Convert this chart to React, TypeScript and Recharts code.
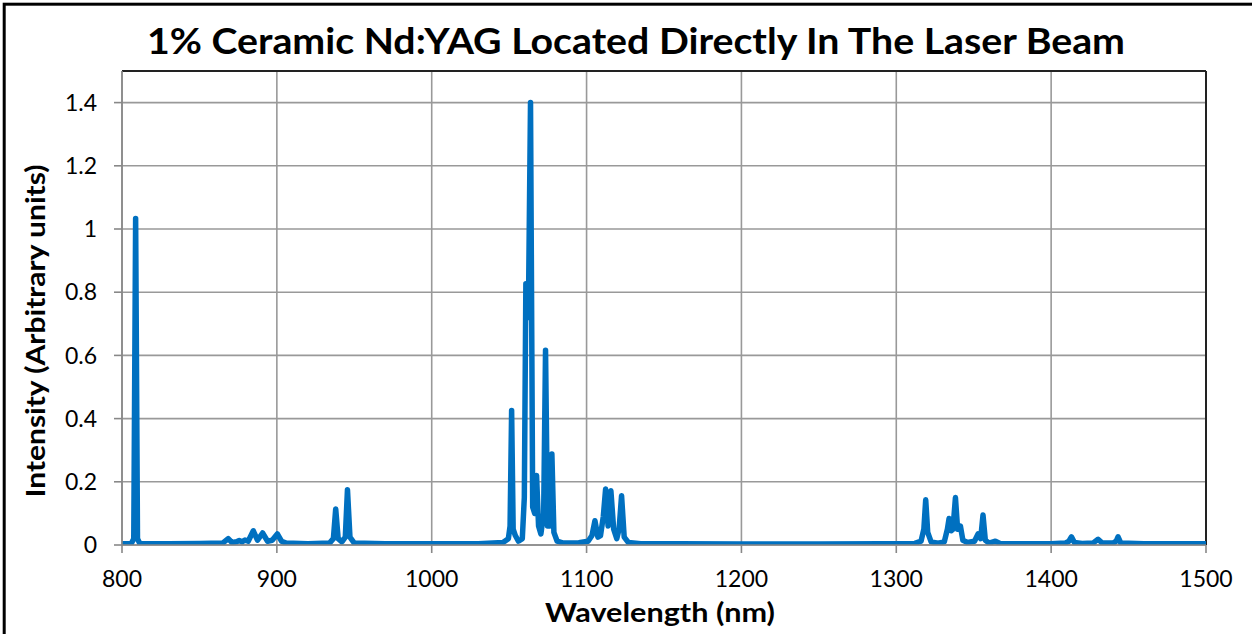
import React from "react";
import { LineChart, Line, XAxis, YAxis, CartesianGrid, ReferenceLine } from "recharts";

const titleText = "1% Ceramic Nd:YAG Located Directly In The Laser Beam";
const xAxisTitle = "Wavelength (nm)";
const yAxisTitle = "Intensity (Arbitrary units)";

const xTicks = [800, 900, 1000, 1100, 1200, 1300, 1400, 1500];
const yTicks = [0, 0.2, 0.4, 0.6, 0.8, 1, 1.2, 1.4];
const yTickLabels = ["0", "0.2", "0.4", "0.6", "0.8", "1", "1.2", "1.4"];

// Spectrum: wavelength (nm) and intensity (arb. units)
const wavelengthNm = [
  800, 806, 807.6, 808.8, 810.0, 811.5, 830, 850, 865, 868.6, 871, 874, 875.7, 877.5, 879.4,
  881.5, 884.8, 887.5, 890.8, 894, 897, 900.3, 903, 906, 920, 934, 936.5, 938.0, 939.6, 942,
  944.2, 945.6, 947.2, 950, 970, 1000, 1030, 1046, 1049.5, 1050.6, 1051.6, 1052.6, 1054, 1056,
  1058.5, 1059.8, 1060.8, 1062.4, 1063.8, 1065.2, 1066.5, 1067.7, 1069, 1070.5, 1072.3, 1073.5,
  1074.8, 1076.3, 1077.6, 1078.9, 1081, 1085, 1095, 1101, 1103.5, 1105.4, 1107.3, 1109, 1110.8,
  1112.3, 1113.9, 1115.7, 1117.5, 1119.5, 1121, 1122.6, 1124.3, 1127, 1135, 1160, 1200, 1250,
  1290, 1312, 1316, 1317.8, 1319.0, 1320.3, 1322.5, 1327, 1331, 1333, 1334.1, 1335.5, 1336.6,
  1338.2, 1339.6, 1341.4, 1343, 1346, 1350.5, 1352.8, 1354.5, 1356.0, 1357.5, 1360, 1364, 1367,
  1380, 1400, 1409, 1411.5, 1413.1, 1415, 1420, 1427, 1430.3, 1433, 1440, 1442, 1443.2, 1445,
  1460, 1480, 1500,
];
const intensity = [
  0.004, 0.005, 0.02, 1.033, 0.02, 0.005, 0.004, 0.005, 0.006, 0.02, 0.008, 0.01, 0.014, 0.01, 0.016,
  0.012, 0.045, 0.015, 0.038, 0.012, 0.015, 0.035, 0.012, 0.006, 0.004, 0.006, 0.02, 0.114, 0.02, 0.01,
  0.025, 0.175, 0.025, 0.006, 0.004, 0.004, 0.004, 0.008, 0.02, 0.06, 0.426, 0.05, 0.03, 0.012,
  0.02, 0.15, 0.827, 0.72, 1.4, 0.12, 0.1, 0.22, 0.06, 0.035, 0.1, 0.616,
  0.06, 0.06, 0.288, 0.04, 0.012, 0.006, 0.007, 0.012, 0.03, 0.077, 0.025, 0.03, 0.09,
  0.177, 0.06, 0.172, 0.05, 0.02, 0.05, 0.156, 0.025, 0.008, 0.004, 0.004, 0.003, 0.003,
  0.004, 0.005, 0.012, 0.05, 0.143, 0.04, 0.01, 0.006, 0.01, 0.05, 0.084, 0.045, 0.05,
  0.15, 0.05, 0.06, 0.015, 0.008, 0.012, 0.035, 0.02, 0.095, 0.015, 0.006, 0.012, 0.005,
  0.004, 0.004, 0.006, 0.012, 0.026, 0.008, 0.005, 0.006, 0.018, 0.006, 0.006, 0.012, 0.026, 0.006,
  0.004, 0.004, 0.004,
];

const data = wavelengthNm.map((w, i) => ({ w, v: intensity[i] }));

const FONT = "Lato, 'Open Sans', sans-serif";

export default function App() {
  return (
    <div style={{ position: "absolute", left: 0, top: 0, width: 1252, height: 634, overflow: "hidden", background: "#fff" }}>
      <LineChart
        width={1252}
        height={634}
        data={data}
        margin={{ top: 71, right: 46, bottom: 0, left: 0 }}
      >
        <CartesianGrid stroke="#999" strokeWidth={1.6} horizontalValues={yTicks} verticalValues={xTicks} />
        <XAxis
          dataKey="w"
          type="number"
          domain={[800, 1500]}
          ticks={xTicks}
          allowDataOverflow
          height={89}
          tickSize={8}
          tickMargin={18}
          stroke="#888"
          strokeWidth={1.6}
          tick={{ fill: "#000", fontSize: 23, fontFamily: FONT }}
        />
        <YAxis
          type="number"
          domain={[0, 1.5]}
          ticks={yTicks}
          allowDataOverflow
          width={122}
          tickSize={8}
          tickMargin={17}
          stroke="#888"
          strokeWidth={1.6}
          tickFormatter={(v: number) => yTickLabels[yTicks.indexOf(v)] ?? String(v)}
          tick={{ fill: "#000", fontSize: 23, fontFamily: FONT }}
        />
        <ReferenceLine y={1.5} stroke="#222" strokeWidth={2} />
        <ReferenceLine x={1500} stroke="#222" strokeWidth={2} />
        <Line
          type="linear"
          dataKey="v"
          stroke="#0070C0"
          strokeWidth={5.5}
          strokeLinejoin="round"
          strokeLinecap="round"
          dot={false}
          activeDot={false}
          isAnimationActive={false}
        />
      </LineChart>
      <svg width={1252} height={634} style={{ position: "absolute", left: 0, top: 0, pointerEvents: "none" }}>
        <rect x={4.2} y={4.2} width={1400} height={800} fill="none" stroke="#000" strokeWidth={3} />
        <text x={636} y={54} textAnchor="middle" fontFamily={FONT} fontWeight="bold" fontSize={37}
          textLength={978} lengthAdjust="spacingAndGlyphs" fill="#000">{titleText}</text>
        <text x={660} y={622} textAnchor="middle" fontFamily={FONT} fontWeight="bold" fontSize={26}
          textLength={230} lengthAdjust="spacingAndGlyphs" fill="#000">{xAxisTitle}</text>
        <text x={0} y={0} transform="translate(45,331) rotate(-90)" textAnchor="middle" fontFamily={FONT}
          fontWeight="bold" fontSize={26} textLength={333} lengthAdjust="spacingAndGlyphs" fill="#000">{yAxisTitle}</text>
      </svg>
    </div>
  );
}
